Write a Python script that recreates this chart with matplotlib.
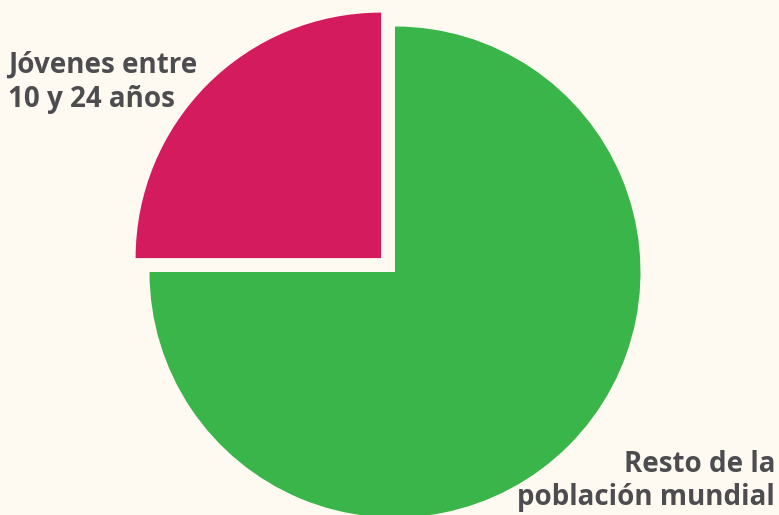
import matplotlib
matplotlib.use("Agg")
import matplotlib.pyplot as plt

categories = ["Jóvenes entre\n10 y 24 años", "Resto de la\npoblación mundial"]
values = [25, 75]
colors = ["#D41B5E", "#3AB54A"]

W, H = 779, 515
cx, cy, R = 395, 272, 245.5
bg = "#FEF9F1"

fig = plt.figure(figsize=(W / 100, H / 100), dpi=100, facecolor=bg)
ax = fig.add_axes([0, 0, 1, 1])
ax.set_facecolor(bg)
ax.pie(values, colors=colors, startangle=90, counterclock=True,
       explode=[0.08, 0], radius=1, wedgeprops=dict(linewidth=0))
ax.set_xlim(-cx / R, (W - cx) / R)
ax.set_ylim(-(H - cy) / R, cy / R)
ax.set_aspect("auto")
ax.axis("off")

txt = dict(color="#4D4D4F", fontsize=20, fontweight="bold", family="Open Sans",
           va="baseline")
# label 1: left aligned, upper left
for line, base in zip(categories[0].split("\n"), [73, 107]):
    fig.text(8 / W, 1 - base / H, line, ha="left", **txt)
# label 2: right aligned, lower right
for line, base in zip(categories[1].split("\n"), [472, 505]):
    fig.text(775 / W, 1 - base / H, line, ha="right", **txt)

fig.savefig("out.png", dpi=100, facecolor=bg)
